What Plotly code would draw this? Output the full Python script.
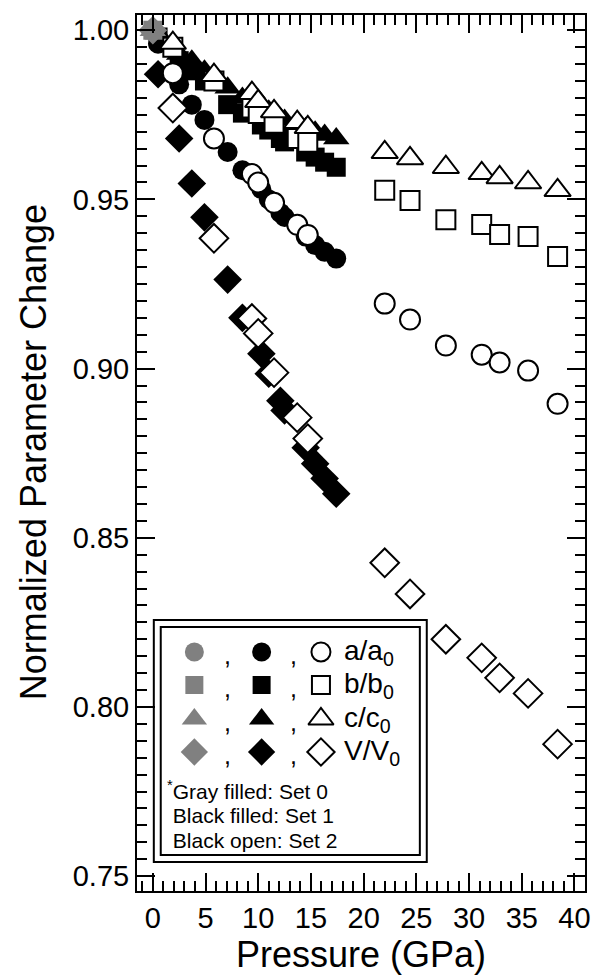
import plotly.graph_objects as go

# ---------------- data ----------------
# Set 0 (gray filled)
P0 = [0.0]
a0 = [1.0]
b0 = [1.0]
c0 = [1.0]
V0 = [1.0]

# Set 1 (black filled)
P1 = [0.5, 2.5, 3.7, 4.9, 7.1, 8.5, 10.3, 11.0, 12.1, 12.5, 14.5, 15.4, 16.3, 17.4]
a1 = [0.996, 0.984, 0.978, 0.9735, 0.964, 0.9586, 0.953, 0.950, 0.946, 0.9448, 0.939, 0.9365, 0.9345, 0.9325]
b1 = [0.998, 0.991, 0.988, 0.985, 0.978, 0.9755, 0.972, 0.9705, 0.968, 0.967, 0.964, 0.9625, 0.961, 0.9595]
c1 = [0.999, 0.993, 0.991, 0.988, 0.983, 0.980, 0.977, 0.9762, 0.974, 0.9735, 0.971, 0.970, 0.969, 0.968]
V1 = [0.987, 0.968, 0.9547, 0.9447, 0.9263, 0.915, 0.9044, 0.8985, 0.8905, 0.8876, 0.8766, 0.8719, 0.8675, 0.863]

# Set 2 (black open)
P2 = [1.9, 5.8, 9.4, 10.0, 11.5, 13.7, 14.7, 22.0, 24.4, 27.8, 31.2, 32.9, 35.6, 38.4]
a2 = [0.9873, 0.968, 0.9575, 0.955, 0.949, 0.9425, 0.9395, 0.9192, 0.9145, 0.9068, 0.9041, 0.9018, 0.8994, 0.8896]
b2 = [0.995, 0.985, 0.977, 0.9754, 0.9725, 0.968, 0.9669, 0.9527, 0.9497, 0.944, 0.9426, 0.9396, 0.939, 0.9331]
c2 = [0.9962, 0.9867, 0.9814, 0.979, 0.976, 0.9728, 0.9713, 0.9639, 0.9621, 0.9595, 0.9577, 0.9565, 0.955, 0.9527]
V2 = [0.977, 0.9385, 0.9148, 0.9104, 0.8988, 0.8855, 0.8793, 0.8426, 0.8334, 0.820, 0.8145, 0.8086, 0.804, 0.789]

legend_labels = ["a/a<sub>0</sub>", "b/b<sub>0</sub>", "c/c<sub>0</sub>", "V/V<sub>0</sub>"]
legend_notes = ["<sup>*</sup>Gray filled: Set 0", " Black filled: Set 1", " Black open: Set 2"]
x_title = "Pressure (GPa)"
y_title = "Normalized Parameter Change"

FONT = "Liberation Sans, Arial, sans-serif"
GRAY = "#808080"
SYM = ["circle", "square", "triangle-up", "diamond"]
SIZE = {"circle": 20, "square": 19, "triangle-up": 23, "diamond": 22}

fig = go.Figure()

def add(P, vals, sym, fill, line_color):
    fig.add_trace(go.Scatter(
        x=P, y=vals, mode="markers", showlegend=False,
        marker=dict(symbol=sym, size=SIZE[sym], color=fill,
                    line=dict(color=line_color, width=2 if fill == "white" else 0)),
    ))

# set 1 filled black
for vals, sym in zip([V1, a1, b1, c1], ["diamond", "circle", "square", "triangle-up"]):
    add(P1, vals, sym, "black", "black")
# set 2 open
for vals, sym in zip([V2, a2, b2, c2], ["diamond", "circle", "square", "triangle-up"]):
    add(P2, vals, sym, "white", "black")
# set 0 gray
for vals, sym in zip([V0, a0, b0, c0], ["diamond", "circle", "square", "triangle-up"]):
    add(P0, vals, sym, GRAY, GRAY)

# ---------------- legend box (pixel overlay axes) ----------------
X0, X1, Y0, Y1 = 137, 590, 15, 891  # plot area in px
W, H = 597, 976

def px(xp):
    return (xp - X0) / (X1 - X0)

def py(yp):
    return (Y1 - yp) / (Y1 - Y0)

rows_y = [652, 685, 719, 752]
for i, sym in enumerate(SYM):
    y = rows_y[i]
    for xx, fill, lc in [(195, GRAY, GRAY), (263, "black", "black"), (323, "white", "black")]:
        fig.add_trace(go.Scatter(
            x=[xx], y=[y], xaxis="x2", yaxis="y2", mode="markers", showlegend=False,
            cliponaxis=False,
            marker=dict(symbol=sym, size=SIZE[sym] - 1, color=fill,
                        line=dict(color=lc, width=2 if fill == "white" else 0)),
        ))
    for cx in (229, 295):
        fig.add_annotation(x=cx, y=y + 3, xref="x2", yref="y2", text=",", showarrow=False,
                           font=dict(family=FONT, size=25, color="black"))
    fig.add_annotation(x=344, y=y, xref="x2", yref="y2", text=legend_labels[i],
                       showarrow=False, xanchor="left", yanchor="middle",
                       font=dict(family=FONT, size=28, color="black"))

for j, (txt, yy) in enumerate(zip(legend_notes, [790, 815, 840])):
    fig.add_annotation(x=165, y=yy, xref="x2", yref="y2", text=txt, showarrow=False,
                       xanchor="left", yanchor="middle",
                       font=dict(family=FONT, size=21, color="black"))

fig.add_shape(type="rect", x0=154, x1=430, y0=620, y1=862, xref="x2", yref="y2",
              line=dict(color="black", width=2), fillcolor="white", layer="below")
fig.add_shape(type="rect", x0=161, x1=423, y0=627, y1=855, xref="x2", yref="y2",
              line=dict(color="black", width=2), layer="below")

# ---------------- axis titles ----------------
fig.add_annotation(x=px(33), y=py(452), xref="paper", yref="paper", text=y_title,
                   textangle=-90, showarrow=False, xanchor="center", yanchor="middle",
                   font=dict(family=FONT, size=36, color="black"))
fig.add_annotation(x=px(364), y=py(954), xref="paper", yref="paper", text=x_title,
                   showarrow=False, xanchor="center", yanchor="middle",
                   font=dict(family=FONT, size=36, color="black"))

axis_common = dict(showline=True, linecolor="black", linewidth=2, mirror="allticks",
                   ticks="inside", ticklen=18, tickwidth=2, tickcolor="black",
                   showgrid=False, zeroline=False,
                   tickfont=dict(family=FONT, size=29, color="black"))

fig.update_layout(
    width=W, height=H,
    margin=dict(l=X0, r=W - X1, t=Y0, b=H - Y1),
    paper_bgcolor="white", plot_bgcolor="white",
    xaxis=dict(range=[-1.5, 41.0], dtick=5, tick0=0,
               minor=dict(dtick=1, ticks="inside", ticklen=10, tickwidth=2, tickcolor="black"),
               **axis_common),
    yaxis=dict(range=[0.7456, 1.0045], dtick=0.05, tick0=0.75, tickformat=".2f",
               minor=dict(dtick=0.005, ticks="inside", ticklen=10, tickwidth=2, tickcolor="black"),
               **axis_common),
    xaxis2=dict(range=[X0, X1], overlaying="x", visible=False, fixedrange=True),
    yaxis2=dict(range=[Y1, Y0], overlaying="y", visible=False, fixedrange=True),
)

fig.write_html("out.html", config={"displayModeBar": False},
               post_script="document.body.style.margin='0';")
